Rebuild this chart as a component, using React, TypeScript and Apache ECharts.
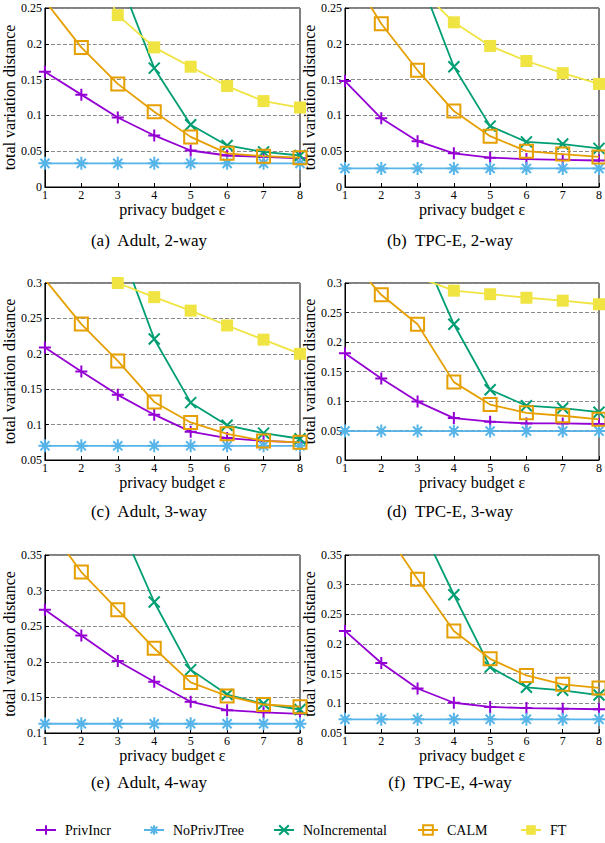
import React, { useEffect, useRef } from "react";
import * as echarts from "echarts";

const eps = [1, 2, 3, 4, 5, 6, 7, 8];
const methods = ["PrivIncr", "NoPrivJTree", "NoIncremental", "CALM", "FT"];
const captions = [
  "(a)  Adult, 2-way",
  "(b)  TPC-E, 2-way",
  "(c)  Adult, 3-way",
  "(d)  TPC-E, 3-way",
  "(e)  Adult, 4-way",
  "(f)  TPC-E, 4-way",
];
const yMin = [0, 0, 0.05, 0, 0.1, 0.05];
const yMax = [0.25, 0.25, 0.3, 0.3, 0.35, 0.35];
const yStep = 0.05;

// (a) Adult, 2-way
const aPrivIncr = [0.161, 0.129, 0.097, 0.072, 0.051, 0.044, 0.042, 0.04];
const aNoPrivJTree = [0.033, 0.033, 0.033, 0.033, 0.033, 0.033, 0.033, 0.033];
const aNoIncremental = [0.6, 0.45, 0.297, 0.166, 0.087, 0.058, 0.049, 0.044];
const aCALM = [0.26, 0.195, 0.144, 0.105, 0.07, 0.047, 0.043, 0.041];
const aFT = [0.5, 0.34, 0.24, 0.195, 0.168, 0.141, 0.12, 0.111];
// (b) TPC-E, 2-way
const bPrivIncr = [0.148, 0.096, 0.064, 0.047, 0.041, 0.039, 0.038, 0.037];
const bNoPrivJTree = [0.026, 0.026, 0.026, 0.026, 0.026, 0.026, 0.026, 0.026];
const bNoIncremental = [0.6, 0.45, 0.3, 0.168, 0.085, 0.063, 0.06, 0.054];
const bCALM = [0.31, 0.228, 0.163, 0.106, 0.071, 0.05, 0.046, 0.042];
const bFT = [0.4, 0.33, 0.28, 0.23, 0.197, 0.176, 0.159, 0.144];
// (c) Adult, 3-way
const cPrivIncr = [0.209, 0.175, 0.142, 0.114, 0.09, 0.081, 0.077, 0.075];
const cNoPrivJTree = [0.07, 0.07, 0.07, 0.07, 0.07, 0.07, 0.07, 0.07];
const cNoIncremental = [0.65, 0.5, 0.36, 0.221, 0.131, 0.099, 0.088, 0.08];
const cCALM = [0.305, 0.242, 0.19, 0.132, 0.103, 0.087, 0.077, 0.075];
const cFT = [0.4, 0.35, 0.3, 0.28, 0.261, 0.24, 0.22, 0.2];
// (d) TPC-E, 3-way
const dPrivIncr = [0.181, 0.138, 0.099, 0.071, 0.065, 0.062, 0.062, 0.061];
const dNoPrivJTree = [0.049, 0.049, 0.049, 0.049, 0.049, 0.049, 0.049, 0.049];
const dNoIncremental = [0.65, 0.5, 0.37, 0.23, 0.119, 0.092, 0.088, 0.081];
const dCALM = [0.35, 0.28, 0.23, 0.132, 0.094, 0.08, 0.075, 0.069];
const dFT = [0.4, 0.35, 0.31, 0.287, 0.281, 0.275, 0.27, 0.264];
// (e) Adult, 4-way
const ePrivIncr = [0.273, 0.237, 0.201, 0.172, 0.144, 0.132, 0.129, 0.127];
const eNoPrivJTree = [0.113, 0.113, 0.113, 0.113, 0.113, 0.113, 0.113, 0.113];
const eNoIncremental = [0.7, 0.55, 0.4, 0.284, 0.189, 0.154, 0.141, 0.133];
const eCALM = [0.396, 0.326, 0.273, 0.219, 0.171, 0.152, 0.14, 0.137];
const eFT = [0.6, 0.55, 0.5, 0.47, 0.44, 0.42, 0.4, 0.39];
// (f) TPC-E, 4-way
const fPrivIncr = [0.222, 0.168, 0.125, 0.101, 0.094, 0.092, 0.091, 0.09];
const fNoPrivJTree = [0.073, 0.073, 0.073, 0.073, 0.073, 0.073, 0.073, 0.073];
const fNoIncremental = [0.7, 0.55, 0.41, 0.283, 0.161, 0.127, 0.122, 0.114];
const fCALM = [0.5, 0.4, 0.309, 0.222, 0.175, 0.147, 0.132, 0.126];
const fFT = [0.6, 0.55, 0.5, 0.47, 0.44, 0.42, 0.4, 0.39];

const panels = [
  [aPrivIncr, aNoPrivJTree, aNoIncremental, aCALM, aFT],
  [bPrivIncr, bNoPrivJTree, bNoIncremental, bCALM, bFT],
  [cPrivIncr, cNoPrivJTree, cNoIncremental, cCALM, cFT],
  [dPrivIncr, dNoPrivJTree, dNoIncremental, dCALM, dFT],
  [ePrivIncr, eNoPrivJTree, eNoIncremental, eCALM, eFT],
  [fPrivIncr, fNoPrivJTree, fNoIncremental, fCALM, fFT],
];

const colors = ["#9400d3", "#56b4e9", "#009e73", "#e69f00", "#f0e442"];
const symbols = [
  "path://M5,0L5,10M0,5L10,5",
  "path://M5,0L5,10M0,5L10,5M1.5,1.5L8.5,8.5M1.5,8.5L8.5,1.5",
  "path://M0,0L10,10M0,10L10,0",
  "path://M0,0L10,0L10,10L0,10Z",
  "rect",
];
const symbolSizes = [12, 13, 11, 13, 12];

const FONT = "Liberation Serif";

const gridLefts = [43, 345];
const gridWidths = [257, 258];
const gridTops = [8, 283, 555];
const gridHeights = [179, 177, 178];
const captionX = [149, 450];
const captionY = [240, 511, 782];
const legendLefts = [35, 143, 273, 417, 520];

export default function App() {
  const ref = useRef<HTMLDivElement>(null);
  useEffect(() => {
    if (!ref.current) return;
    const chart = echarts.init(ref.current, null, { renderer: "svg" });
    const grids: any[] = [];
    const xAxes: any[] = [];
    const yAxes: any[] = [];
    const series: any[] = [];
    const graphics: any[] = [];
    panels.forEach((vals, p) => {
      const col = p % 2;
      const row = Math.floor(p / 2);
      grids.push({
        left: gridLefts[col],
        top: gridTops[row],
        width: gridWidths[col],
        height: gridHeights[row],
        show: true,
        borderColor: "#000",
        borderWidth: 1,
        backgroundColor: "transparent",
      });
      xAxes.push({
        type: "value",
        gridIndex: p,
        min: 1,
        max: 8,
        interval: 1,
        name: "privacy budget ε",
        nameLocation: "middle",
        nameGap: 13,
        nameTextStyle: { fontFamily: FONT, fontSize: 16, color: "#000" },
        axisLine: { show: true, lineStyle: { color: "#000", width: 1 } },
        axisTick: { show: true, inside: true, length: 4, lineStyle: { color: "#000" } },
        axisLabel: { color: "#000", fontFamily: FONT, fontSize: 12, margin: 2 },
        splitLine: { show: false },
      });
      yAxes.push({
        type: "value",
        gridIndex: p,
        min: yMin[p],
        max: yMax[p],
        interval: yStep,
        name: "total variation distance",
        nameLocation: "middle",
        nameGap: 21,
        nameTextStyle: { fontFamily: FONT, fontSize: 16, color: "#000" },
        axisLine: { show: true, lineStyle: { color: "#000", width: 1 } },
        axisTick: { show: true, inside: true, length: 4, lineStyle: { color: "#000" } },
        axisLabel: { color: "#000", fontFamily: FONT, fontSize: 12, margin: 3 },
        splitLine: { show: true, lineStyle: { color: "#8a8a8a", type: [4, 2], width: 1 } },
      });
      vals.forEach((arr, m) => {
        const isFilled = m === 4;
        series.push({
          type: "line",
          name: methods[m],
          xAxisIndex: p,
          yAxisIndex: p,
          data: eps.map((e, j) => [e, arr[j]]),
          clip: true,
          symbol: symbols[m],
          symbolSize: symbolSizes[m],
          symbolKeepAspect: true,
          showAllSymbol: true,
          lineStyle: { color: colors[m], width: 1.8 },
          itemStyle: isFilled
            ? { color: colors[m], borderColor: colors[m], borderWidth: 0 }
            : { color: "rgba(0,0,0,0)", borderColor: colors[m], borderWidth: 2 },
          color: colors[m],
          emphasis: { disabled: true },
          z: 2 + m,
        });
      });
      graphics.push({
        type: "text",
        x: captionX[col],
        y: captionY[row],
        style: {
          text: captions[p],
          fontFamily: FONT,
          fontSize: 17,
          fill: "#000",
          align: "center",
          verticalAlign: "middle",
        },
      });
    });
    const legends = methods.map((name, m) => ({
      data: [name],
      left: legendLefts[m],
      top: 823,
      padding: 0,
      itemWidth: 20,
      itemHeight: 12,
      selectedMode: false,
      textStyle: { fontFamily: FONT, fontSize: 14, color: "#000", padding: [0, 0, 0, 4] },
    }));
    chart.setOption({
      animation: false,
      backgroundColor: "#fff",
      grid: grids,
      xAxis: xAxes,
      yAxis: yAxes,
      series,
      graphic: graphics,
      legend: legends,
    });
    return () => chart.dispose();
  }, []);
  return (
    <div
      ref={ref}
      style={{ position: "absolute", left: 0, top: 0, width: 605, height: 843 }}
    />
  );
}
